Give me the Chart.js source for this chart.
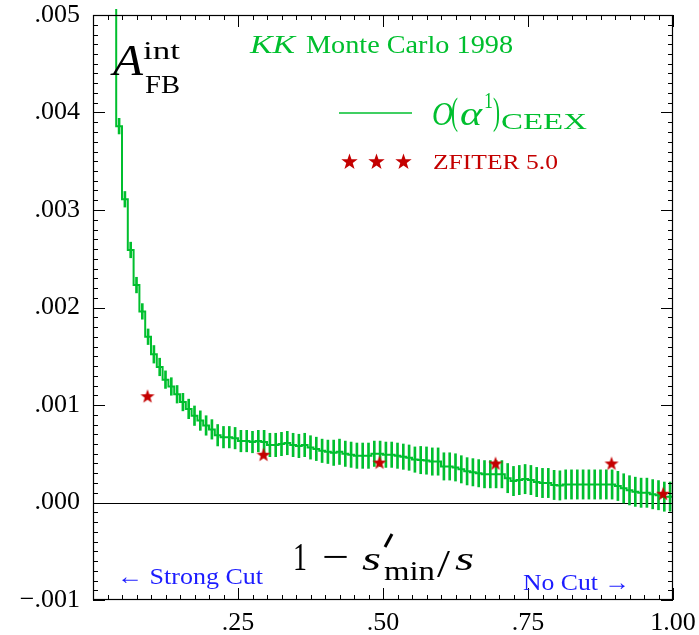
<!DOCTYPE html>
<html>
<head>
<meta charset="utf-8">
<script src="https://cdn.jsdelivr.net/npm/chart.js@4.4.0/dist/chart.umd.min.js"></script>
<style>
  html, body { margin: 0; padding: 0; background: #fff; }
  #wrap { width: 699px; height: 635px; }
</style>
</head>
<body>
<div id="wrap"><canvas id="myChart" width="699" height="635"></canvas></div>
<script>
// lower edge of each histogram bin (width 0.01), last edge closes the histogram
const binLo = [
  0.03, 0.04, 0.05, 0.06, 0.07, 0.08, 0.09, 0.10, 0.11, 0.12, 0.13, 0.14, 0.15, 0.16, 0.17, 0.18, 0.19,
  0.20, 0.21, 0.22, 0.23, 0.24, 0.25, 0.26, 0.27, 0.28, 0.29, 0.30, 0.31, 0.32, 0.33, 0.34, 0.35, 0.36,
  0.37, 0.38, 0.39, 0.40, 0.41, 0.42, 0.43, 0.44, 0.45, 0.46, 0.47, 0.48, 0.49, 0.50, 0.51, 0.52, 0.53,
  0.54, 0.55, 0.56, 0.57, 0.58, 0.59, 0.60, 0.61, 0.62, 0.63, 0.64, 0.65, 0.66, 0.67, 0.68, 0.69, 0.70,
  0.71, 0.72, 0.73, 0.74, 0.75, 0.76, 0.77, 0.78, 0.79, 0.80, 0.81, 0.82, 0.83, 0.84, 0.85, 0.86, 0.87,
  0.88, 0.89, 0.90, 0.91, 0.92, 0.93, 0.94, 0.95, 0.96, 0.97, 0.98, 0.99
];
const binWidth = 0.01;
const lastEdge = 1.00;

// KK Monte Carlo O(alpha^1) CEEX, A_FB^int
const ceex = [
  0.0062, 0.00386, 0.00311, 0.00259, 0.00223, 0.00196, 0.00170, 0.00152, 0.00139, 0.00126, 0.00119,
  0.00111, 0.00103, 0.00096, 0.00089, 0.00084, 0.00079, 0.00075, 0.00069, 0.00067, 0.00067, 0.00066,
  0.00063, 0.00063, 0.00062, 0.00063, 0.00062, 0.00059, 0.00059, 0.00060, 0.00061, 0.00059, 0.00058,
  0.00059, 0.000565, 0.00055, 0.00053, 0.00052, 0.00051, 0.00052, 0.00050, 0.00049, 0.00048, 0.00048,
  0.00048, 0.00050, 0.00050, 0.00049, 0.00049, 0.00048, 0.00047, 0.00046, 0.00044, 0.000435, 0.00043,
  0.00042, 0.00042, 0.00037, 0.00037, 0.00036, 0.00034, 0.00032, 0.00031, 0.00030, 0.00029, 0.00029,
  0.00029, 0.00029, 0.00025, 0.00022, 0.00023, 0.00024, 0.00023, 0.00021, 0.00020, 0.00020, 0.00018,
  0.000175, 0.000185, 0.000185, 0.000185, 0.000185, 0.000185, 0.000185, 0.000185, 0.000185, 0.000185,
  0.00017, 0.000145, 0.000125, 0.00011, 0.00010, 0.00010, 0.000085, 0.000075, 0.00006, 0.00006
];
const ceexErr = [
  0.00008, 0.00008, 0.00008, 0.00008, 0.00008, 0.00008, 0.00008, 0.00009, 0.00009, 0.00009, 0.00009,
  0.00009, 0.00009, 0.00010, 0.00010, 0.00010, 0.00010, 0.00010, 0.00011, 0.00011, 0.00011, 0.00011,
  0.00011, 0.00011, 0.00011, 0.00011, 0.00012, 0.00012, 0.00012, 0.00012, 0.00012, 0.00012, 0.00012,
  0.00012, 0.00012, 0.00012, 0.00012, 0.00012, 0.00013, 0.00013, 0.00013, 0.00013, 0.00013, 0.00013,
  0.00013, 0.00013, 0.00013, 0.00013, 0.00013, 0.00013, 0.00013, 0.00013, 0.00013, 0.00014, 0.00014,
  0.00014, 0.00014, 0.00014, 0.00014, 0.00014, 0.00014, 0.00014, 0.00014, 0.00014, 0.00014, 0.00014,
  0.00014, 0.00014, 0.00015, 0.00015, 0.00015, 0.00015, 0.00015, 0.00015, 0.00015, 0.00015, 0.00015,
  0.00015, 0.00015, 0.00015, 0.00015, 0.00015, 0.00015, 0.00015, 0.00015, 0.00015, 0.00015, 0.00015,
  0.00015, 0.00015, 0.00015, 0.00015, 0.00015, 0.00015, 0.00015, 0.00015, 0.00015
];

// ZFITER 5.0 points
const zfitX = [0.094, 0.294, 0.494, 0.694, 0.894, 0.983];
const zfitY = [0.00109, 0.00049, 0.00041, 0.00040, 0.00040, 0.00009];

// tick labels
const xTickLabels = ['', '.25', '.50', '.75', '1.00'];
const yTickLabels = ['\u2212.001', '.000', '.001', '.002', '.003', '.004', '.005'];

const GREEN = '#00bf2e';
const RED = '#c40000';
const BLUE = '#1c1cff';
const SERIF = '"Liberation Serif", "DejaVu Serif", serif';

function starPath(ctx, cx, cy, R, r) {
  ctx.beginPath();
  for (let k = 0; k < 10; k++) {
    const rad = k % 2 ? r : R;
    const a = -Math.PI / 2 + k * Math.PI / 5;
    ctx.lineTo(cx + rad * Math.cos(a), cy + rad * Math.sin(a));
  }
  ctx.closePath();
}

const starImg = document.createElement('canvas');
starImg.width = 16;
starImg.height = 16;
{
  const c = starImg.getContext('2d');
  c.fillStyle = RED;
  starPath(c, 8, 8.5, 7.4, 3.0);
  c.fill();
}

// text squeezed/stretched to a given width
function txt(ctx, s, x, y, w, font, color) {
  ctx.save();
  ctx.font = font;
  ctx.fillStyle = color;
  ctx.textAlign = 'left';
  ctx.textBaseline = 'alphabetic';
  const m = ctx.measureText(s).width;
  ctx.translate(x, y);
  ctx.scale(w / m, 1);
  ctx.fillText(s, 0, 0);
  ctx.restore();
}

const histData = binLo.map((x, i) => ({ x: x, y: ceex[i] }));
histData.push({ x: lastEdge, y: ceex[ceex.length - 1] });

const errData = binLo.slice(1).map((x, j) => {
  const i = j + 1;
  return { x: x + binWidth / 2, y: [ceex[i] - ceexErr[i], ceex[i] + ceexErr[i]] };
});

const starData = zfitX.map((x, i) => ({ x: x, y: zfitY[i] }));

const framePlugin = {
  id: 'frame',
  beforeDatasetsDraw(chart) {
    const ctx = chart.ctx;
    const { left, right } = chart.chartArea;
    const y0 = Math.round(chart.scales.y.getPixelForValue(0)) + 0.5;
    ctx.save();
    ctx.strokeStyle = '#000';
    ctx.lineWidth = 1;
    ctx.beginPath();
    ctx.moveTo(left, y0);
    ctx.lineTo(right, y0);
    ctx.stroke();
    ctx.restore();
  },
  afterDatasetsDraw(chart) {
    const ctx = chart.ctx;
    const { left, right, top, bottom } = chart.chartArea;
    const xs = chart.scales.x, ys = chart.scales.y;
    ctx.save();
    ctx.strokeStyle = '#000';
    ctx.lineWidth = 1;
    ctx.beginPath();
    for (let i = 0; i <= 40; i++) {
      const px = Math.round(xs.getPixelForValue(i * 0.025)) + 0.5;
      const len = i % 10 === 0 ? 12 : 5;
      ctx.moveTo(px, bottom); ctx.lineTo(px, bottom - len);
      ctx.moveTo(px, top); ctx.lineTo(px, top + len);
    }
    for (let i = -10; i <= 50; i++) {
      const py = Math.round(ys.getPixelForValue(i * 0.0001)) + 0.5;
      const len = i % 10 === 0 ? 12 : 5;
      ctx.moveTo(left, py); ctx.lineTo(left + len, py);
      ctx.moveTo(right, py); ctx.lineTo(right - len, py);
    }
    ctx.stroke();
    ctx.lineWidth = 1.2;
    ctx.strokeRect(left + 0.5, top + 0.5, right - left - 1, bottom - top - 1);
    ctx.restore();
  },
  afterDraw(chart) {
    const ctx = chart.ctx;
    // A_FB^int
    txt(ctx, 'A', 113, 75, 30, 'italic 44px ' + SERIF, '#000');
    txt(ctx, 'int', 143, 59, 37, '26px ' + SERIF, '#000');
    txt(ctx, 'FB', 145, 93, 35, '26px ' + SERIF, '#000');
    // KK Monte Carlo 1998
    txt(ctx, 'KK', 250, 53, 45, 'italic 25px ' + SERIF, GREEN);
    txt(ctx, 'Monte Carlo 1998', 306, 53, 207, '25px ' + SERIF, GREEN);
    // legend: line + O(alpha^1)_CEEX
    ctx.save();
    ctx.strokeStyle = GREEN;
    ctx.lineWidth = 1.3;
    ctx.beginPath();
    ctx.moveTo(339, 113);
    ctx.lineTo(412, 113);
    ctx.stroke();
    ctx.restore();
    txt(ctx, 'O', 432, 125, 21, 'italic 34px ' + SERIF, GREEN);
    txt(ctx, '(', 451, 124, 7, '38px ' + SERIF, GREEN);
    txt(ctx, '\u03b1', 460, 125, 22, 'italic 34px ' + SERIF, GREEN);
    txt(ctx, '1', 484, 108, 9, '24px ' + SERIF, GREEN);
    txt(ctx, ')', 493, 124, 7, '38px ' + SERIF, GREEN);
    txt(ctx, 'CEEX', 501, 129, 86, '23px ' + SERIF, GREEN);
    // legend: stars + ZFITER 5.0
    ctx.save();
    ctx.fillStyle = RED;
    [349.5, 376.5, 403.5].forEach(cx => { starPath(ctx, cx, 162, 8.6, 3.4); ctx.fill(); });
    ctx.restore();
    txt(ctx, 'ZFITER 5.0', 433, 169, 125, '22px ' + SERIF, RED);
    // axis title 1 - s'_min / s
    txt(ctx, '1', 293, 570, 14, '40px ' + SERIF, '#000');
    txt(ctx, '\u2212', 322, 570, 27, '40px ' + SERIF, '#000');
    txt(ctx, 's', 362, 570, 19, 'italic 34px ' + SERIF, '#000');
    ctx.save();
    ctx.strokeStyle = '#000';
    ctx.lineWidth = 3;
    ctx.beginPath();
    ctx.moveTo(392, 534);
    ctx.lineTo(385, 547);
    ctx.stroke();
    ctx.restore();
    txt(ctx, 'min', 384, 580, 51, '28px ' + SERIF, '#000');
    txt(ctx, '/', 437, 577, 13, '40px ' + SERIF, '#000');
    txt(ctx, 's', 455, 570, 19, 'italic 34px ' + SERIF, '#000');
    // cut annotations
    txt(ctx, '\u2190 Strong Cut', 117, 584, 146, '24px ' + SERIF, BLUE);
    txt(ctx, 'No Cut \u2192', 523, 590, 107, '24px ' + SERIF, BLUE);
  }
};

const config = {
  type: 'line',
  data: {
    datasets: [
      {
        type: 'scatter',
        label: 'ZFITER 5.0',
        data: starData,
        pointStyle: starImg,
        showLine: false,
        order: 0
      },
      {
        type: 'line',
        label: 'O(alpha^1) CEEX',
        data: histData,
        stepped: 'before',
        borderColor: GREEN,
        borderWidth: 2,
        pointRadius: 0,
        fill: false,
        clip: { left: 0, top: 6, right: 0, bottom: 0 },
        order: 1
      },
      {
        type: 'bar',
        label: 'errors',
        data: errData,
        backgroundColor: GREEN,
        borderWidth: 0,
        barThickness: 2,
        order: 2
      }
    ]
  },
  options: {
    responsive: false,
    animation: false,
    devicePixelRatio: 1,
    events: [],
    layout: { padding: { top: 15, right: 26, left: 0, bottom: 0 } },
    scales: {
      x: {
        type: 'linear',
        min: 0,
        max: 1,
        offset: false,
        grid: { display: false, drawTicks: false },
        border: { display: false },
        ticks: {
          stepSize: 0.25,
          padding: 8,
          color: '#000',
          font: { family: SERIF, size: 26 },
          maxRotation: 0,
          callback: (v, i) => xTickLabels[i]
        },
        afterFit: (s) => { s.height = 35; s.paddingLeft = 0; s.paddingRight = 0; }
      },
      y: {
        min: -0.001,
        max: 0.005,
        grid: { display: false, drawTicks: false },
        border: { display: false },
        ticks: {
          stepSize: 0.001,
          padding: 13,
          color: '#000',
          font: { family: SERIF, size: 26 },
          callback: (v, i) => yTickLabels[i]
        },
        afterFit: (s) => { s.width = 93; s.paddingTop = 0; s.paddingBottom = 0; }
      }
    },
    plugins: {
      legend: { display: false },
      tooltip: { enabled: false }
    }
  },
  plugins: [framePlugin]
};

const myChart = new Chart(document.getElementById('myChart'), config);
</script>
</body>
</html>
